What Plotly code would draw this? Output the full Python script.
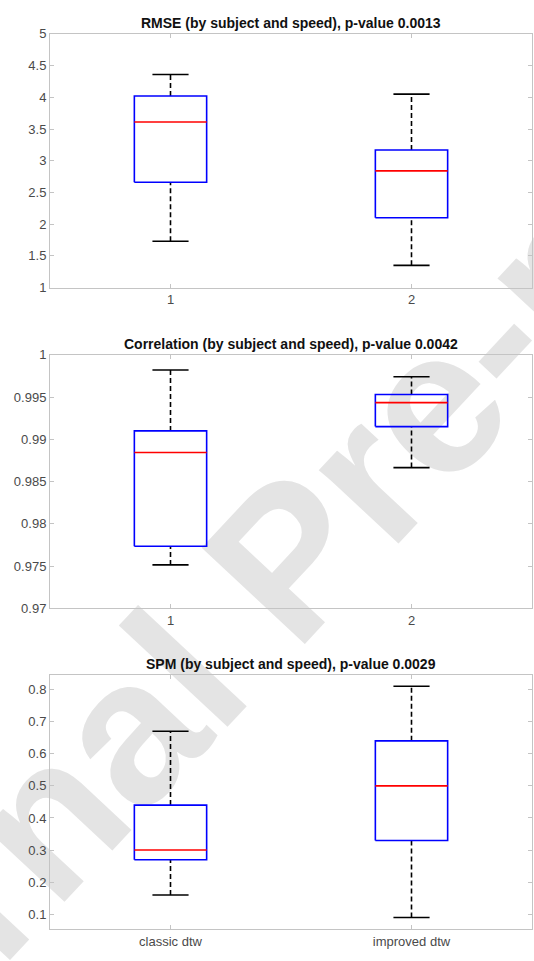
import math
import plotly.graph_objects as go

# Box-plot summaries for the two alignment methods
methods = ["classic dtw", "improved dtw"]
positions = [1, 2]

rmse_lower = [1.73, 1.35]
rmse_q1 = [2.66, 2.10]
rmse_median = [3.61, 2.84]
rmse_q3 = [4.02, 3.17]
rmse_upper = [4.36, 4.05]

corr_lower = [0.97515, 0.98666]
corr_q1 = [0.97736, 0.99151]
corr_median = [0.98845, 0.99434]
corr_q3 = [0.99100, 0.99531]
corr_upper = [0.99820, 0.99740]

spm_lower = [0.16, 0.09]
spm_q1 = [0.27, 0.33]
spm_median = [0.30, 0.50]
spm_q3 = [0.44, 0.64]
spm_upper = [0.67, 0.81]

titles = [
    "RMSE (by subject and speed), p-value 0.0013",
    "Correlation (by subject and speed), p-value 0.0042",
    "SPM (by subject and speed), p-value 0.0029",
]

panels = [
    (rmse_lower, rmse_q1, rmse_median, rmse_q3, rmse_upper),
    (corr_lower, corr_q1, corr_median, corr_q3, corr_upper),
    (spm_lower, spm_q1, spm_median, spm_q3, spm_upper),
]

W, H = 534, 961
BOX_W = 0.3
CAP_HALF = 0.075
FONT = "Liberation Sans, Arial, sans-serif"
AXIS_GREY = "#c4c4c4"
TICK_TEXT = "#4a4a4a"

# pixel extents of each axes box (top, bottom)
x_px = (50, 532)
y_px = [(27.3, 285.0), (353.3, 611.0), (678.3, 936.7)]
y_ranges = [[1, 5], [0.97, 1.0], [0.054, 0.846]]
y_ticks = [
    [1, 1.5, 2, 2.5, 3, 3.5, 4, 4.5, 5],
    [0.97, 0.975, 0.98, 0.985, 0.99, 0.995, 1],
    [0.1, 0.2, 0.3, 0.4, 0.5, 0.6, 0.7, 0.8],
]
y_ticktext = [
    ["1", "1.5", "2", "2.5", "3", "3.5", "4", "4.5", "5"],
    ["0.97", "0.975", "0.98", "0.985", "0.99", "0.995", "1"],
    ["0.1", "0.2", "0.3", "0.4", "0.5", "0.6", "0.7", "0.8"],
]
x_ticktext = [["1", "2"], ["1", "2"], methods]

fig = go.Figure()

for i, (lo, q1, med, q3, up) in enumerate(panels):
    xa = "x" if i == 0 else f"x{i + 1}"
    ya = "y" if i == 0 else f"y{i + 1}"

    # dashed whiskers
    wx, wy = [], []
    for p, a, b, c, d in zip(positions, lo, q1, q3, up):
        wx += [p, p, None, p, p, None]
        wy += [c, d, None, a, b, None]
    fig.add_trace(go.Scatter(
        x=wx, y=wy, mode="lines", xaxis=xa, yaxis=ya,
        line=dict(color="black", width=1.6, dash="5px,3px"),
        hoverinfo="skip", showlegend=False))

    # whisker caps
    cx, cy = [], []
    for p, a, d in zip(positions, lo, up):
        cx += [p - CAP_HALF, p + CAP_HALF, None, p - CAP_HALF, p + CAP_HALF, None]
        cy += [d, d, None, a, a, None]
    fig.add_trace(go.Scatter(
        x=cx, y=cy, mode="lines", xaxis=xa, yaxis=ya,
        line=dict(color="black", width=1.6),
        hoverinfo="skip", showlegend=False))

    # interquartile boxes
    bx, by = [], []
    for p, b, c in zip(positions, q1, q3):
        l, r = p - BOX_W / 2, p + BOX_W / 2
        bx += [l, r, r, l, l, None]
        by += [b, b, c, c, b, None]
    fig.add_trace(go.Scatter(
        x=bx, y=by, mode="lines", xaxis=xa, yaxis=ya,
        line=dict(color="#0000ff", width=1.6),
        hoverinfo="skip", showlegend=False))

    # medians
    mx, my = [], []
    for p, m in zip(positions, med):
        mx += [p - BOX_W / 2, p + BOX_W / 2, None]
        my += [m, m, None]
    fig.add_trace(go.Scatter(
        x=mx, y=my, mode="lines", xaxis=xa, yaxis=ya,
        line=dict(color="#ff0000", width=1.6),
        hoverinfo="skip", showlegend=False))

layout = dict(
    width=W, height=H,
    margin=dict(l=0, r=0, t=0, b=0),
    paper_bgcolor="white",
    plot_bgcolor="rgba(0,0,0,0)",
    showlegend=False,
    font=dict(family=FONT, size=13, color=TICK_TEXT),
)

annotations = []
for i in range(3):
    xk = "xaxis" if i == 0 else f"xaxis{i + 1}"
    yk = "yaxis" if i == 0 else f"yaxis{i + 1}"
    ya = "y" if i == 0 else f"y{i + 1}"
    top, bot = y_px[i]
    layout[xk] = dict(
        domain=[x_px[0] / W, x_px[1] / W],
        range=[0.5, 2.5], anchor=ya,
        tickmode="array", tickvals=positions, ticktext=x_ticktext[i],
        showline=True, mirror="ticks", linecolor=AXIS_GREY, linewidth=1,
        ticks="inside", ticklen=4, tickcolor=AXIS_GREY,
        showgrid=False, zeroline=False, fixedrange=True,
        tickfont=dict(family=FONT, size=13, color=TICK_TEXT),
    )
    layout[yk] = dict(
        domain=[(H - bot) / H, (H - top) / H],
        range=y_ranges[i], anchor="x" if i == 0 else f"x{i + 1}",
        tickmode="array", tickvals=y_ticks[i], ticktext=y_ticktext[i],
        showline=True, mirror="ticks", linecolor=AXIS_GREY, linewidth=1,
        ticks="inside", ticklen=4, tickcolor=AXIS_GREY,
        showgrid=False, zeroline=False, fixedrange=True,
        tickfont=dict(family=FONT, size=13, color=TICK_TEXT),
    )
    annotations.append(dict(
        text=f"<b>{titles[i]}</b>", xref="paper", yref="paper",
        x=(x_px[0] + x_px[1]) / 2 / W, y=(H - (top - 11)) / H,
        xanchor="center", yanchor="middle", showarrow=False,
        font=dict(family=FONT, size=14, color="#111111"),
    ))

layout["annotations"] = annotations
fig.update_layout(**layout)

# diagonal watermark, drawn beneath the plotted marks
cxp, cyp = 272, 548
half = 100
ang = math.radians(47)
x0p, y0p = cxp - half * math.cos(ang), cyp + half * math.sin(ang)
x1p, y1p = cxp + half * math.cos(ang), cyp - half * math.sin(ang)
fig.add_shape(
    type="line", xref="paper", yref="paper",
    x0=x0p / W, y0=(H - y0p) / H, x1=x1p / W, y1=(H - y1p) / H,
    line=dict(width=0, color="rgba(0,0,0,0)"), layer="below",
    label=dict(text="<b>Journal Pre-proof</b>", textangle=-47,
               textposition="middle", yanchor="middle", xanchor="center",
               font=dict(family=FONT, size=205, color="#e4e4e4")),
)

fig.write_html("out.html")
